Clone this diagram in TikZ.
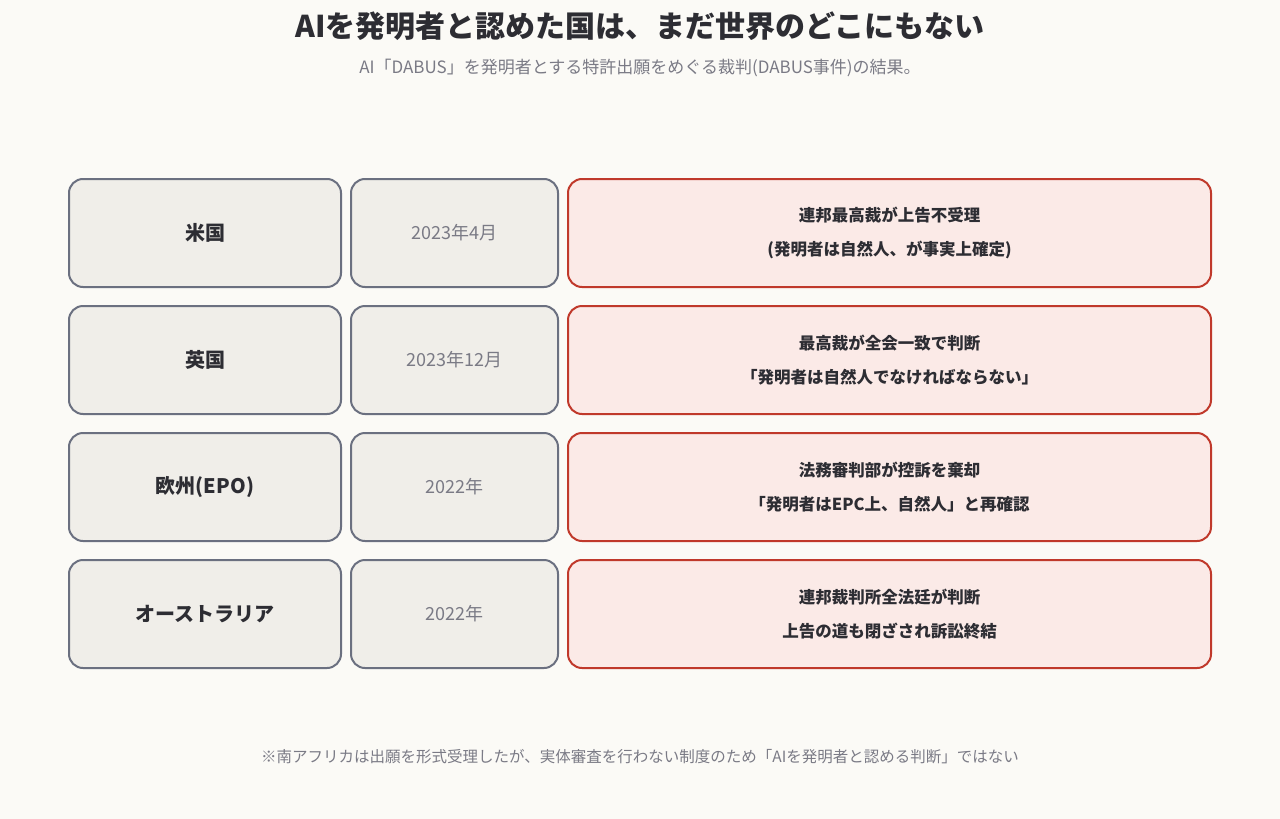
\documentclass[tikz,border=0pt]{standalone}
\usepackage{fontspec}
\setmainfont{Noto Sans CJK JP}
\definecolor{bg}{HTML}{FBFAF6}
\definecolor{boxf}{HTML}{F0EEE9}
\definecolor{boxd}{HTML}{6B7080}
\definecolor{redd}{HTML}{C0392B}
\definecolor{redf}{HTML}{FBEAE7}
\definecolor{ink}{HTML}{2D2D33}
\definecolor{gr}{HTML}{7A7A85}
\begin{document}
\begin{tikzpicture}[x=1pt,y=-1pt,
 box/.style={draw=boxd,fill=boxf,line width=2pt,rounded corners=14pt,inner sep=0pt,align=center},
 cty/.style={box,font=\fontsize{20}{24}\selectfont\bfseries,text=ink},
 dt/.style={box,font=\fontsize{18}{22}\selectfont,text=gr},
 res/.style={box,draw=redd,fill=redf,font=\fontsize{16.5}{34}\selectfont\bfseries,text=ink}]
\fill[bg] (0,0) rectangle (1280,819);
\node[font=\fontsize{30}{34}\selectfont\bfseries,text=ink] (t) at (640,26) {AIを発明者と認めた国は、まだ世界のどこにもない};
\node[font=\fontsize{17}{20}\selectfont,text=gr] (s) at (640,68) {AI「DABUS」を発明者とする特許出願をめぐる裁判(DABUS事件)の結果。};
\foreach \i/\y/\c/\d/\r in {
 1/233/米国/2023年4月/{連邦最高裁が上告不受理\\(発明者は自然人、が事実上確定)},
 2/360/英国/2023年12月/{最高裁が全会一致で判断\\「発明者は自然人でなければならない」},
 3/487/欧州(EPO)/2022年/{法務審判部が控訴を棄却\\「発明者はEPC上、自然人」と再確認},
 4/614/オーストラリア/2022年/{連邦裁判所全法廷が判断\\上告の道も閉ざされ訴訟終結}}{
 \node[cty,minimum width=272pt,minimum height=108pt] (c\i) at (205,\y) {\c};
 \node[dt,minimum width=207pt,minimum height=108pt] (d\i) at (454.5,\y) {\d};
 \node[res,minimum width=643pt,minimum height=108pt] (r\i) at (889.5,\y) {\r};
}
\node[font=\fontsize{15.5}{18}\selectfont,text=gr] (f) at (640,757) {※南アフリカは出願を形式受理したが、実体審査を行わない制度のため「AIを発明者と認める判断」ではない};
\end{tikzpicture}
\end{document}
